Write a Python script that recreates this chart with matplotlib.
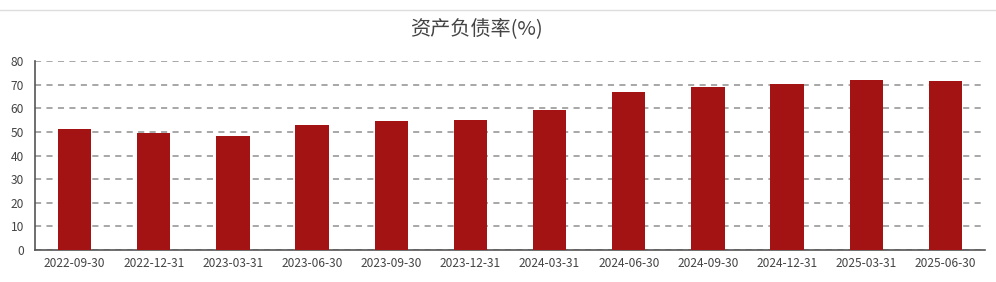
import matplotlib
matplotlib.use("Agg")
import matplotlib.pyplot as plt
from matplotlib.lines import Line2D

plt.rcParams['font.family'] = ['Noto Sans CJK SC', 'DejaVu Sans']

categories = ["2022-09-30", "2022-12-31", "2023-03-31", "2023-06-30", "2023-09-30", "2023-12-31",
              "2024-03-31", "2024-06-30", "2024-09-30", "2024-12-31", "2025-03-31", "2025-06-30"]
values = [51.2, 49.8, 48.3, 53.2, 54.5, 55.2, 59.3, 67.0, 69.0, 70.4, 72.2, 71.8]
yticks = [0, 10, 20, 30, 40, 50, 60, 70, 80]
title = "资产负债率(%)"

fig = plt.figure(figsize=(9.96, 2.82), dpi=100)
ax = fig.add_axes([35/996, 32/282, 950/996, 188.7/282])

x = list(range(len(categories)))
ax.bar(x, values, width=0.42, color='#a31313', zorder=3)
ax.set_xlim(-0.5, len(categories) - 0.5)
ax.set_ylim(0, 80)
ax.set_yticks(yticks)
ax.set_yticklabels([str(t) for t in yticks])
ax.set_xticks(x)
ax.set_xticklabels(categories)
ax.tick_params(axis='both', length=0, labelsize=8.6, colors='#444444')
ax.tick_params(axis='x', pad=5)
ax.tick_params(axis='y', pad=8)

ax.yaxis.grid(True, linestyle=(0, (4, 3.5)), color='#909090', linewidth=1.1, zorder=0)
ax.set_axisbelow(True)
for s in ['top', 'right']:
    ax.spines[s].set_visible(False)
for s in ['left', 'bottom']:
    ax.spines[s].set_color('#555555')
    ax.spines[s].set_linewidth(1.2)

fig.text(476/996, 1 - 29/282, title, ha='center', va='center', fontsize=14.5, color='#444444')
fig.add_artist(Line2D([0, 1], [1 - 9.5/282, 1 - 9.5/282], transform=fig.transFigure,
                      color='#dddddd', linewidth=1))

fig.savefig("out.png", dpi=100)
